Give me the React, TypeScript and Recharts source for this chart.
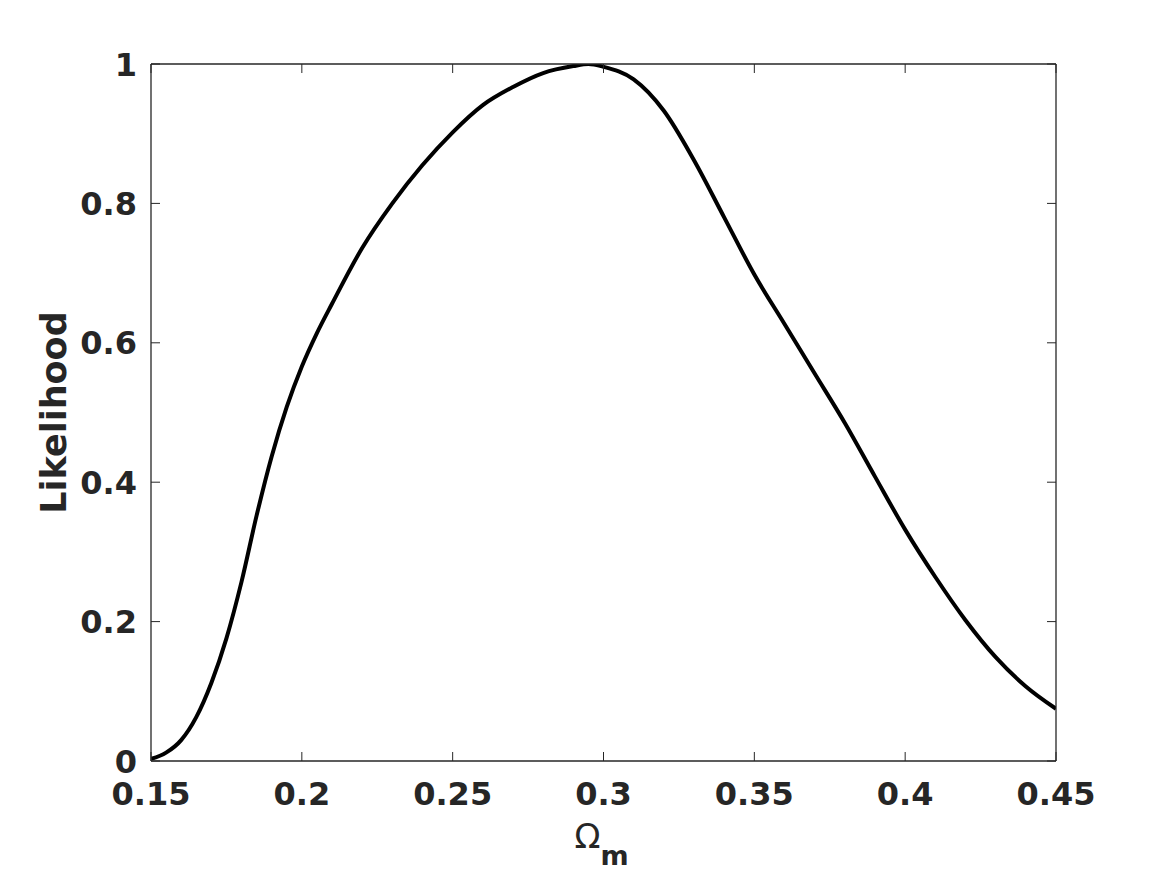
import React from 'react';
import { LineChart, Line, XAxis, YAxis } from 'recharts';

// Omega_m grid and likelihood values
const omegaM = [
  0.15, 0.155, 0.16, 0.165, 0.17, 0.175, 0.18, 0.185, 0.19, 0.195, 0.2, 0.205,
  0.21, 0.22, 0.23, 0.24, 0.25, 0.26, 0.27, 0.28, 0.29, 0.295, 0.3, 0.31, 0.32,
  0.33, 0.34, 0.35, 0.36, 0.37, 0.38, 0.39, 0.4, 0.41, 0.42, 0.43, 0.44, 0.45,
];
const likelihood = [
  0.003, 0.012, 0.03, 0.063, 0.112, 0.176, 0.257, 0.352, 0.437, 0.508, 0.566,
  0.614, 0.656, 0.736, 0.8, 0.855, 0.902, 0.941, 0.967, 0.987, 0.997, 1.0,
  0.996, 0.978, 0.933, 0.862, 0.78, 0.698, 0.627, 0.556, 0.485, 0.408, 0.332,
  0.264, 0.202, 0.149, 0.107, 0.075,
];
const xTicks = [0.15, 0.2, 0.25, 0.3, 0.35, 0.4, 0.45];
const yTicks = [0, 0.2, 0.4, 0.6, 0.8, 1];

const data = omegaM.map((x, i) => ({ x, y: likelihood[i] }));

const AXIS = '#262626';
const FONT = '"DejaVu Sans", sans-serif';
const TICK_LEN = 9;

const fmt = (v: number) => String(Number(v.toFixed(2)));

// tick labels outside the box, tick marks pointing inward
const BottomTick = ({ x, y, payload }: any) => (
  <g>
    <line x1={x} y1={y} x2={x} y2={y - TICK_LEN} stroke={AXIS} strokeWidth={1} />
    <text x={x} y={y + 44} textAnchor="middle" fill={AXIS} fontFamily={FONT} fontWeight="bold" fontSize={32}>
      {fmt(payload.value)}
    </text>
  </g>
);

const TopTick = ({ x, y }: any) => (
  <line x1={x} y1={y} x2={x} y2={y + TICK_LEN} stroke={AXIS} strokeWidth={1} />
);

const LeftTick = ({ x, y, payload }: any) => (
  <g>
    <line x1={x} y1={y} x2={x + TICK_LEN} y2={y} stroke={AXIS} strokeWidth={1} />
    <text x={x - 14} y={y + 11.5} textAnchor="end" fill={AXIS} fontFamily={FONT} fontWeight="bold" fontSize={32}>
      {fmt(payload.value)}
    </text>
  </g>
);

const RightTick = ({ x, y }: any) => (
  <line x1={x} y1={y} x2={x - TICK_LEN} y2={y} stroke={AXIS} strokeWidth={1} />
);

const XLabel = ({ viewBox }: any) => {
  const cx = viewBox.x + viewBox.width / 2;
  return (
    <text x={cx - 29} y={848} fill={AXIS} fontFamily={FONT}>
      <tspan fontSize={34}>Ω</tspan>
      <tspan fontSize={27} fontWeight="bold" dy={17}>m</tspan>
    </text>
  );
};

const YLabel = ({ viewBox }: any) => {
  const cy = viewBox.y + viewBox.height / 2;
  return (
    <text
      x={66}
      y={cy}
      transform={`rotate(-90, 66, ${cy})`}
      textAnchor="middle"
      fill={AXIS}
      fontFamily={FONT}
      fontWeight="bold"
      fontSize={35}
    >
      Likelihood
    </text>
  );
};

export default function App() {
  return (
    <div style={{ position: 'absolute', left: 0, top: 0, background: '#fff' }}>
      <LineChart
        width={1167}
        height={875}
        data={data}
        margin={{ top: 63, right: 110, bottom: 113, left: 150 }}
      >
        <XAxis
          dataKey="x"
          type="number"
          domain={[0.15, 0.45]}
          ticks={xTicks}
          allowDataOverflow
          orientation="bottom"
          height={1}
          tickSize={0}
          tickMargin={0}
          tickLine={false}
          axisLine={{ stroke: AXIS, strokeWidth: 1.3 }}
          tick={<BottomTick />}
          interval={0}
          label={<XLabel />}
        />
        <XAxis
          xAxisId="top"
          dataKey="x"
          type="number"
          domain={[0.15, 0.45]}
          ticks={xTicks}
          allowDataOverflow
          orientation="top"
          height={1}
          tickSize={0}
          tickMargin={0}
          tickLine={false}
          axisLine={{ stroke: AXIS, strokeWidth: 1.3 }}
          tick={<TopTick />}
          interval={0}
        />
        <YAxis
          type="number"
          domain={[0, 1]}
          ticks={yTicks}
          allowDataOverflow
          orientation="left"
          width={1}
          tickSize={0}
          tickMargin={0}
          tickLine={false}
          axisLine={{ stroke: AXIS, strokeWidth: 1.3 }}
          tick={<LeftTick />}
          interval={0}
          label={<YLabel />}
        />
        <YAxis
          yAxisId="right"
          type="number"
          domain={[0, 1]}
          ticks={yTicks}
          allowDataOverflow
          orientation="right"
          width={1}
          tickSize={0}
          tickMargin={0}
          tickLine={false}
          axisLine={{ stroke: AXIS, strokeWidth: 1.3 }}
          tick={<RightTick />}
          interval={0}
        />
        <Line
          type="monotone"
          dataKey="y"
          stroke="#000"
          strokeWidth={4}
          dot={false}
          isAnimationActive={false}
        />
      </LineChart>
    </div>
  );
}
